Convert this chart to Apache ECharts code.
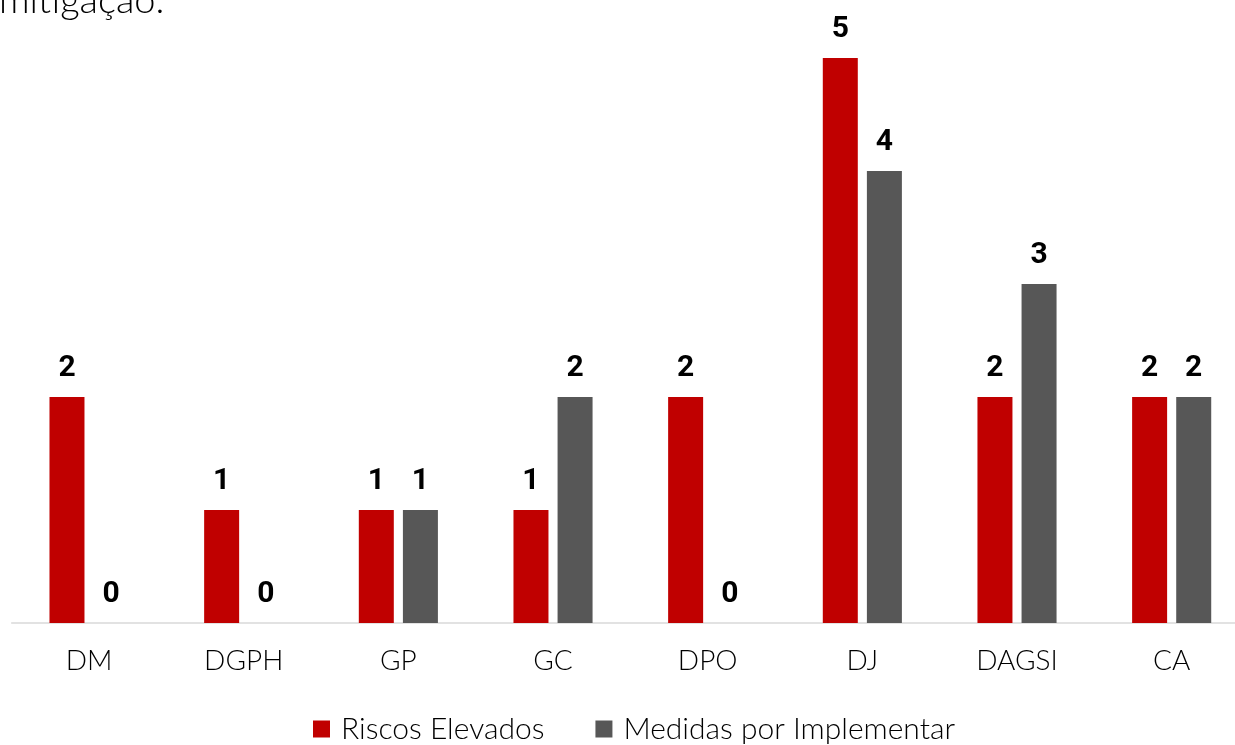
<!DOCTYPE html>
<html>
<head>
<meta charset="utf-8">
<script src="https://cdn.jsdelivr.net/npm/echarts@6/dist/echarts.min.js"></script>
<style>
  html, body { margin: 0; padding: 0; background: #ffffff; overflow: hidden; }
  /* the plot runs slightly past the right edge of the window */
  #chart { width: 1249px; height: 745px; }
</style>
</head>
<body>
<div id="chart"></div>
<script>
// Departamentos
const categories = ['DM', 'DGPH', 'GP', 'GC', 'DPO', 'DJ', 'DAGSI', 'CA'];
// Número de riscos elevados por departamento
const riscosElevados = [2, 1, 1, 1, 2, 5, 2, 2];
// Número de medidas ainda por implementar
const medidasPorImplementar = [0, 0, 1, 2, 0, 4, 3, 2];
const seriesNames = ['Riscos Elevados', 'Medidas por Implementar'];
const captionTail = 'mitigação.';

const chart = echarts.init(document.getElementById('chart'), null, { renderer: 'canvas' });

const labelStyle = {
  show: true,
  position: 'top',
  distance: 14,
  color: '#000000',
  fontFamily: 'Roboto',
  fontWeight: 'bold',
  fontSize: 30
};

chart.setOption({
  backgroundColor: '#ffffff',
  animation: false,
  graphic: [{
    type: 'text',
    left: -1,
    top: -18,
    style: {
      text: captionTail,
      font: '300 38px Lato',
      fill: '#000000'
    }
  }],
  grid: { left: 11.7, right: 0, top: 58, bottom: 122, containLabel: false },
  legend: {
    data: seriesNames,
    left: 313,
    top: 714,
    padding: 0,
    icon: 'rect',
    itemWidth: 17,
    itemHeight: 17,
    itemGap: 51,
    textStyle: {
      fontFamily: 'Lato',
      fontWeight: 300,
      fontSize: 30,
      color: '#000000',
      padding: [0, 0, 0, 6]
    }
  },
  xAxis: {
    type: 'category',
    data: categories,
    axisLine: { lineStyle: { color: '#d9d9d9', width: 1.5 } },
    axisTick: { show: false },
    axisLabel: {
      margin: 24,
      fontFamily: 'Lato',
      fontWeight: 300,
      fontSize: 28,
      color: '#000000'
    }
  },
  yAxis: {
    type: 'value',
    min: 0,
    max: 5,
    interval: 1,
    show: false,
    splitLine: { show: false }
  },
  series: [
    {
      name: seriesNames[0],
      type: 'bar',
      data: riscosElevados,
      barWidth: 35,
      barGap: '26%',
      itemStyle: { color: '#c00000' },
      label: labelStyle
    },
    {
      name: seriesNames[1],
      type: 'bar',
      data: medidasPorImplementar,
      barWidth: 35,
      barGap: '26%',
      itemStyle: { color: '#575757' },
      label: labelStyle
    }
  ]
});
</script>
</body>
</html>
